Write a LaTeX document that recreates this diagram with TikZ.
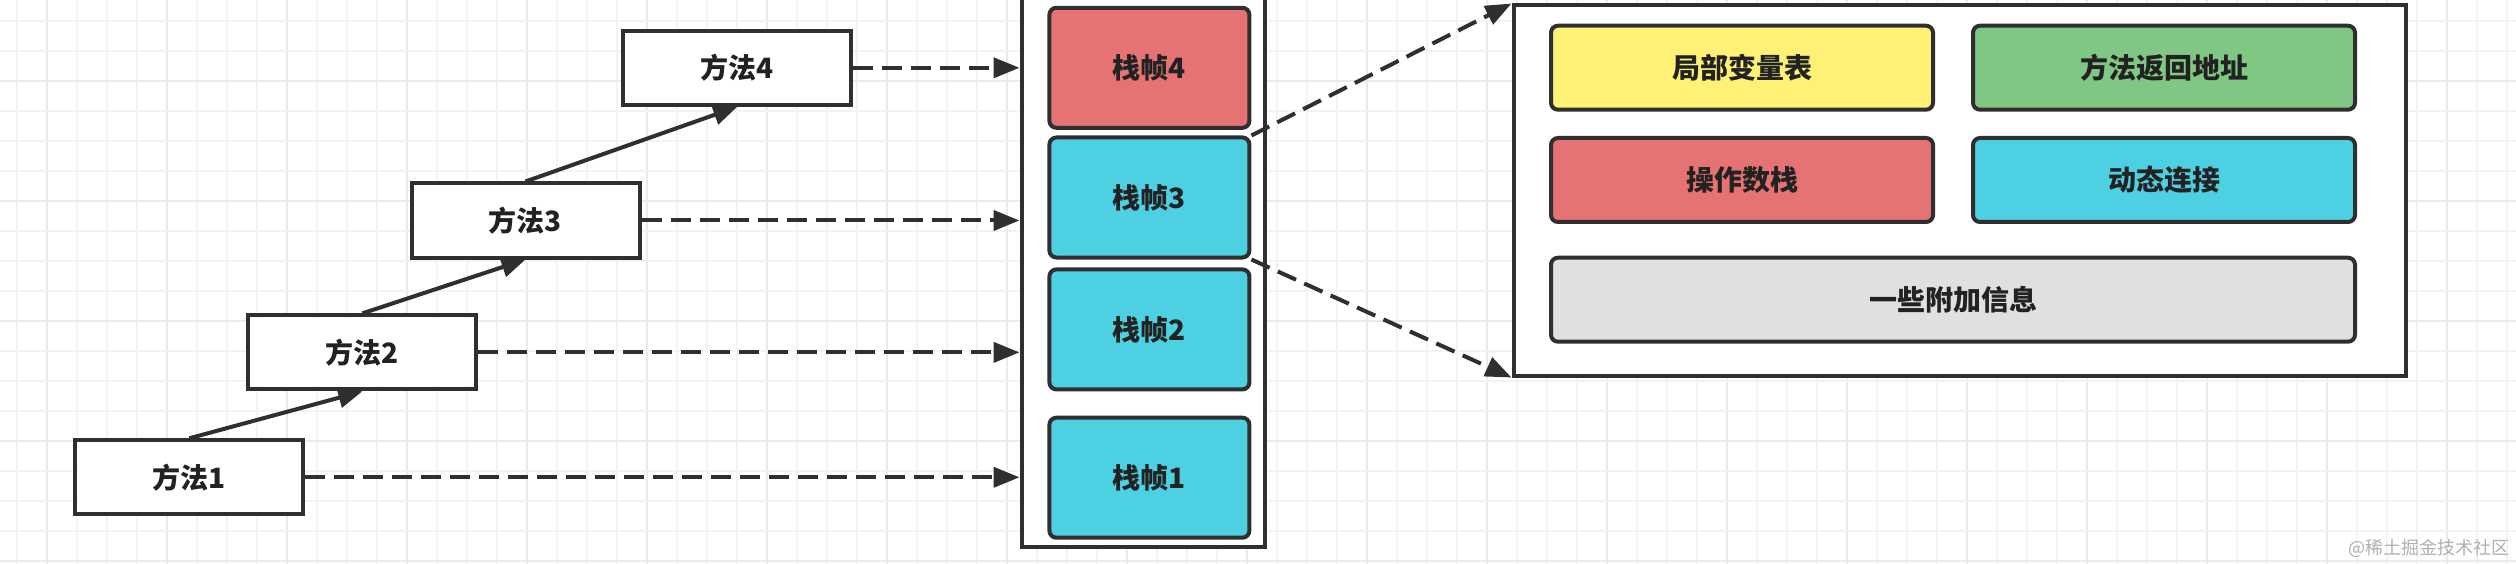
\documentclass[tikz,border=0pt]{standalone}
\usepackage{fontspec}
\setmainfont{Noto Sans CJK SC}
\usetikzlibrary{arrows.meta}
\definecolor{lineC}{HTML}{2F2F2F}
\definecolor{textC}{HTML}{222222}
\definecolor{gridMinor}{HTML}{F3F3F3}
\definecolor{gridMajor}{HTML}{EAEAEA}
\definecolor{redC}{HTML}{E57373}
\definecolor{cyanC}{HTML}{4DD0E1}
\definecolor{yellowC}{HTML}{FFF176}
\definecolor{greenC}{HTML}{81C784}
\definecolor{grayC}{HTML}{E0E0E0}
\definecolor{wmC}{HTML}{B0B0B0}
\tikzset{
  method/.style={draw=lineC, line width=4pt, fill=white, minimum width=228pt, minimum height=74pt, inner sep=0pt, text=textC, font=\bfseries\fontsize{28}{30}\selectfont},
  frame/.style={draw=lineC, line width=4pt, rounded corners=7pt, minimum width=200pt, minimum height=120pt, inner sep=0pt, text=textC, font=\bfseries\fontsize{28}{30}\selectfont},
  info/.style={draw=lineC, line width=4pt, rounded corners=7pt, minimum width=382pt, minimum height=84pt, inner sep=0pt, text=textC, font=\bfseries\fontsize{28}{30}\selectfont},
  holder/.style={draw=lineC, line width=4pt, fill=white, inner sep=0pt},
  solidarrow/.style={draw=lineC, line width=4pt, -{Triangle[length=24pt,width=20pt]}},
  dasharrow/.style={draw=lineC, line width=4pt, dash pattern=on 20pt off 9pt, -{Triangle[length=26pt,width=20pt]}},
}
\begin{document}
\begin{tikzpicture}[x=1pt,y=-1pt]
\clip (0,0) rectangle (2516,564);
\fill[white] (0,0) rectangle (2516,564);
% grid
\foreach \i in {0,...,84} {
  \pgfmathsetmacro{\gx}{17+30*\i}
  \pgfmathtruncatemacro{\gm}{mod(\i,4)}
  \ifnum\gm=1 \draw[gridMajor, line width=2pt] (\gx,0) -- (\gx,564);
  \else \draw[gridMinor, line width=1.5pt] (\gx,0) -- (\gx,564); \fi
}
\foreach \j in {0,...,18} {
  \pgfmathsetmacro{\gy}{21+30*\j}
  \pgfmathtruncatemacro{\gm}{mod(\j,4)}
  \ifnum\gm=2 \draw[gridMajor, line width=2pt] (0,\gy) -- (2516,\gy);
  \else \draw[gridMinor, line width=1.5pt] (0,\gy) -- (2516,\gy); \fi
}

% stack holder
\node[holder, minimum width=243pt, minimum height=580pt] (stack) at (1143,257) {};
\node[frame, fill=redC]  (f4) at (1149.4,67.8)  {栈帧4};
\node[frame, fill=cyanC] (f3) at (1149.4,197.5) {栈帧3};
\node[frame, fill=cyanC] (f2) at (1149.4,329.4) {栈帧2};
\node[frame, fill=cyanC] (f1) at (1149.4,477.7) {栈帧1};

% methods
\node[method] (m1) at (189.3,477.3) {方法1};
\node[method] (m2) at (362.3,352.4) {方法2};
\node[method] (m3) at (525.5,220.5) {方法3};
\node[method] (m4) at (737.3,67.8)  {方法4};

\draw[solidarrow] (m1.north) -- (m2.south);
\draw[solidarrow] (m2.north) -- (m3.south);
\draw[solidarrow] (m3.north) -- (m4.south);

\draw[dasharrow] (m1.east) -- (m1.east -| stack.west);
\draw[dasharrow] (m2.east) -- (m2.east -| stack.west);
\draw[dasharrow] (m3.east) -- (m3.east -| stack.west);
\draw[dasharrow] (m4.east) -- (m4.east -| stack.west);

% detail
\node[holder, minimum width=892pt, minimum height=370pt] (detail) at (1959.5,190.5) {};
\node[info, fill=yellowC] (a1) at (1742,67.7)  {局部变量表};
\node[info, fill=greenC]  (a2) at (2164,67.7)  {方法返回地址};
\node[info, fill=redC]    (b1) at (1742,180)   {操作数栈};
\node[info, fill=cyanC]   (b2) at (2164,180)   {动态连接};
\node[info, fill=grayC, minimum width=804pt] (c1) at (1953,299.7) {一些附加信息};

\draw[dasharrow] (f3.north east) -- (detail.north west);
\draw[dasharrow] (f3.south east) -- (detail.south west);

% watermark
\node[anchor=east, text=wmC, inner sep=0pt, font=\fontsize{18}{20}\selectfont] (wm) at (2510,548) {@稀土掘金技术社区};
\end{tikzpicture}
\end{document}
